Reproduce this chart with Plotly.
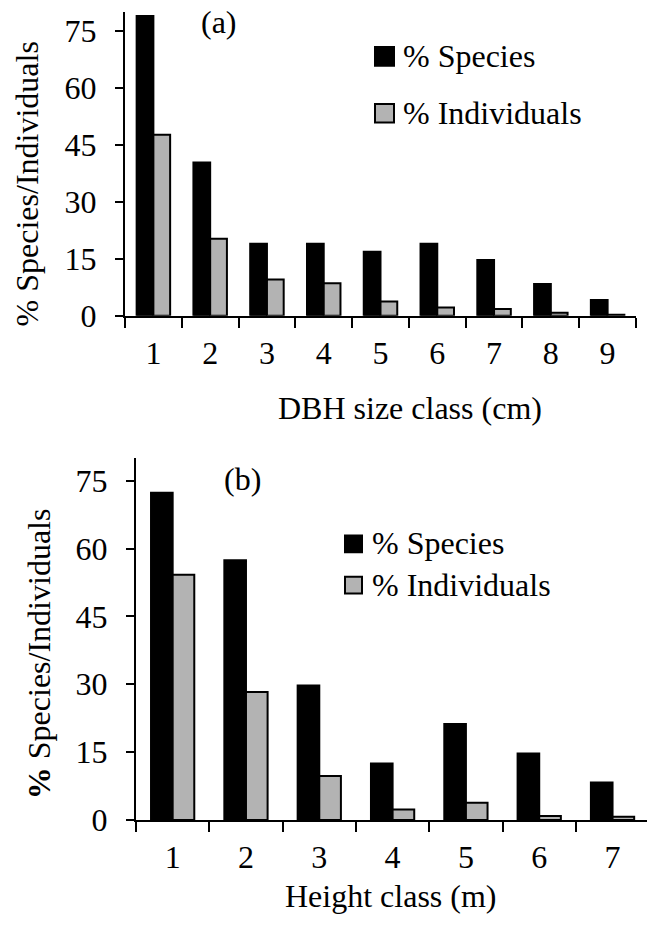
import plotly.graph_objects as go

# ---------------- data ----------------
dbh_classes = ["1", "2", "3", "4", "5", "6", "7", "8", "9"]
dbh_species = [79.0, 40.4, 19.0, 19.0, 16.9, 19.0, 14.7, 8.4, 4.2]
dbh_individuals = [47.7, 20.3, 9.6, 8.6, 3.8, 2.2, 1.8, 0.8, 0.3]

height_classes = ["1", "2", "3", "4", "5", "6", "7"]
height_species = [72.3, 57.4, 29.7, 12.5, 21.2, 14.7, 8.3]
height_individuals = [54.2, 28.3, 9.7, 2.3, 3.8, 0.9, 0.7]

y_ticks = [0, 15, 30, 45, 60, 75]
series_names = ["% Species", "% Individuals"]

# ---------------- styling ----------------
W, H = 647, 938
FONT = "Liberation Serif"
FS = 32
BLACK = "#000000"
GRAY = "#b3b3b3"


def px(x):
    return x / W


def py(y):
    return 1 - y / H


fig = go.Figure()

fig.add_trace(go.Bar(x=dbh_classes, y=dbh_species, name=series_names[0],
                     marker=dict(color=BLACK, line=dict(color=BLACK, width=2)),
                     xaxis="x", yaxis="y", showlegend=False))
fig.add_trace(go.Bar(x=dbh_classes, y=dbh_individuals, name=series_names[1],
                     marker=dict(color=GRAY, line=dict(color=BLACK, width=2)),
                     xaxis="x", yaxis="y", showlegend=False))
fig.add_trace(go.Bar(x=height_classes, y=height_species, name=series_names[0],
                     marker=dict(color=BLACK, line=dict(color=BLACK, width=2)),
                     xaxis="x2", yaxis="y2", showlegend=False))
fig.add_trace(go.Bar(x=height_classes, y=height_individuals, name=series_names[1],
                     marker=dict(color=GRAY, line=dict(color=BLACK, width=2)),
                     xaxis="x2", yaxis="y2", showlegend=False))

xcommon = dict(type="category", tickson="boundaries", ticks="outside", ticklen=10,
               tickwidth=2, tickcolor=BLACK, showline=True, linecolor=BLACK,
               linewidth=2, showgrid=False, zeroline=False,
               tickfont=dict(family=FONT, size=FS, color=BLACK),
               ticklabelstandoff=8)
ycommon = dict(range=[0, 80], tickvals=y_ticks, ticks="outside", ticklen=8,
               tickwidth=2, tickcolor=BLACK, showline=True, linecolor=BLACK,
               linewidth=2, showgrid=False, zeroline=False,
               tickfont=dict(family=FONT, size=FS, color=BLACK),
               ticklabelstandoff=12)

fig.update_layout(
    width=W, height=H,
    margin=dict(l=0, r=0, t=0, b=0),
    paper_bgcolor="white", plot_bgcolor="white",
    barmode="group", bargap=0.41, bargroupgap=0,
    font=dict(family=FONT, size=FS, color=BLACK),
    xaxis=dict(domain=[px(125), px(636)], range=[-0.5, 8.5], anchor="y", **xcommon),
    yaxis=dict(domain=[py(322), py(12.4)], anchor="x", **ycommon),
    xaxis2=dict(domain=[px(136), 1.0], range=[-0.5, 6.47], anchor="y2", **xcommon),
    yaxis2=dict(domain=[py(836), py(467)], anchor="x2", **ycommon),
)

annotations = []
shapes = []


def text(x, y, s, xanchor="center", angle=0):
    annotations.append(dict(x=px(x), y=py(y), xref="paper", yref="paper", text=s,
                            showarrow=False, xanchor=xanchor, yanchor="middle",
                            textangle=angle,
                            font=dict(family=FONT, size=FS, color=BLACK)))


def square(x0, y0, x1, y1, color):
    shapes.append(dict(type="rect", xref="paper", yref="paper",
                       x0=px(x0), x1=px(x1), y0=py(y1), y1=py(y0),
                       fillcolor=color, line=dict(color=BLACK, width=2)))


# panel labels
text(219, 22, "(a)")
text(242, 488, "(b)")

# axis titles
text(410, 416, "DBH size class (cm)")
text(391, 914, "Height class (m)")
text(27, 188, "% Species/Individuals", angle=-90)
text(39, 667, "<b>%</b> Species/Individuals", angle=-90)

# legend (a)
square(375, 48, 394, 67, BLACK)
text(401, 57, series_names[0], xanchor="left")
square(375, 106, 394, 125, GRAY)
text(401, 115, series_names[1], xanchor="left")

# legend (b)
square(345, 546, 362, 563, BLACK)
text(370, 554, series_names[0], xanchor="left")
square(345, 588, 362, 605, GRAY)
text(370, 596, series_names[1], xanchor="left")

fig.update_layout(annotations=annotations, shapes=shapes)

fig.write_html("out.html")
